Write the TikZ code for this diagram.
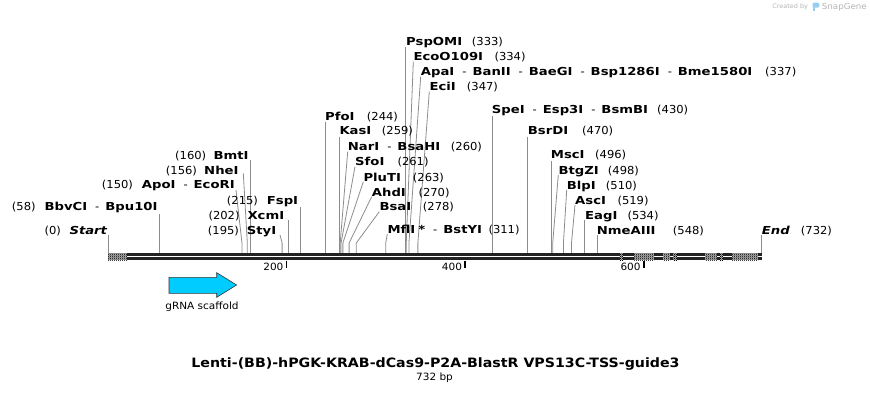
\documentclass[tikz,border=0pt]{standalone}
\usepackage{fontspec}
\setmainfont{DejaVu Sans}[FakeStretch=1.05]
\newfontfamily\enzfont{DejaVu Sans}[FakeStretch=1.2]
\newfontfamily\titlefont{DejaVu Sans}[FakeStretch=1.1]
\usetikzlibrary{patterns}
\definecolor{cutline}{RGB}{140,140,140}
\definecolor{strand}{RGB}{35,35,35}
\definecolor{feature}{RGB}{0,204,255}
\definecolor{credit}{RGB}{180,180,180}
\definecolor{snapblue}{RGB}{150,205,240}

\pgfdeclarepatternformonly{finechecker}{\pgfpointorigin}{\pgfqpoint{2pt}{2pt}}{\pgfqpoint{2pt}{2pt}}{%
  \pgfpathrectangle{\pgfpointorigin}{\pgfqpoint{1pt}{1pt}}%
  \pgfpathrectangle{\pgfqpoint{1pt}{1pt}}{\pgfqpoint{1pt}{1pt}}%
  \pgfusepath{fill}}

\newcommand{\enz}[1]{{\enzfont\bfseries #1}}
\newcommand{\dash}{\hspace{8pt}-\hspace{6pt}}

\begin{document}
\begin{tikzpicture}[x=1pt, y=-1pt,
    lbl/.style={anchor=base west, inner sep=0pt, font=\fontsize{11}{13}\selectfont},
    site/.style={cutline, line width=0.8pt},
    ticklbl/.style={anchor=base east, inner sep=0pt, font=\fontsize{10}{12}\selectfont}]

    \useasboundingbox (0,0) rectangle (870,393);

    % cut sites: slanted leaders
    \foreach \b/\tx/\ty in {150/236/190, 156/243.3/173.3, 195/280/235,
        260/347.7/151.7, 261/355/166.7, 263/363.3/181.7, 270/371.7/196.7,
        278/379.3/211.7, 311/387.3/234, 334/413.3/61.7, 337/420.7/76.7,
        347/429.3/91.7, 498/558.3/175, 510/566.7/190, 519/575/205}
        \draw[site] (\tx,\ty) -- ({108+0.893*\b},243) -- ({108+0.893*\b},253);

    % cut sites: straight leaders
    \foreach \b/\ty in {0/235, 58/214, 160/160, 202/220, 215/207, 244/122,
        259/137, 333/47.3, 430/116, 470/137, 496/161, 534/220, 548/235, 732/235}
        \draw[site] ({108+0.893*\b},\ty) -- ({108+0.893*\b},253);

    % sequence
    \fill[strand] (108,253.3) rectangle (762,256);
    \fill[strand] (108,257.2) rectangle (762,260);
    \foreach \a/\e in {108/127, 620/623.3, 634/654, 663/670, 673/677,
        705/717, 719.5/723, 732/758} {
        \fill[black!30] (\a,253.3) rectangle (\e,260);
        \fill[pattern=finechecker, pattern color=black] (\a,253.3) rectangle (\e,260);
    }

    \foreach \t in {200,400,600} {
        \draw[black, line width=1.5pt] ({108+0.893*\t},260.5) -- ++(0,7);
        \node[ticklbl] (tick\t) at ({108+0.893*\t-3},270) {\t};
    }

    % left labels
    \node[lbl] (start-n) at (44.3,234) {(0)};
    \node[lbl] (start) at (69.3,234) {{\enzfont\bfseries\itshape Start}};
    \node[lbl] (bbvci-n) at (11.7,210) {(58)};
    \node[lbl] (bbvci) at (44.3,210) {\enz{BbvCI}\dash\enz{Bpu10I}};
    \node[lbl] (apoi-n) at (101.7,188.5) {(150)};
    \node[lbl] (apoi) at (141.7,188.5) {\enz{ApoI}\dash\enz{EcoRI}};
    \node[lbl] (nhei-n) at (165.7,174) {(156)};
    \node[lbl] (nhei) at (204,174) {\enz{NheI}};
    \node[lbl] (bmti-n) at (175,159.5) {(160)};
    \node[lbl] (bmti) at (213.3,159.5) {\enz{BmtI}};
    \node[lbl] (fspi-n) at (226.7,204) {(215)};
    \node[lbl] (fspi) at (266.7,204) {\enz{FspI}};
    \node[lbl] (xcmi-n) at (208.3,219) {(202)};
    \node[lbl] (xcmi) at (247.3,219) {\enz{XcmI}};
    \node[lbl] (styi-n) at (207.7,234) {(195)};
    \node[lbl] (styi) at (246.7,234) {\enz{StyI}};

    % right labels
    \node[lbl] (pspomi) at (406,45.7) {\enz{PspOMI}};
    \node[lbl] (pspomi-n) at (471.7,45.7) {(333)};
    \node[lbl] (ecoo) at (413.3,60.7) {\enz{EcoO109I}};
    \node[lbl] (ecoo-n) at (494.3,60.7) {(334)};
    \node[lbl] (apai) at (420.7,75.7) {\enz{ApaI}\dash\enz{BanII}\dash\enz{BaeGI}\dash\enz{Bsp1286I}\dash\enz{Bme1580I}};
    \node[lbl] (apai-n) at (765,75.7) {(337)};
    \node[lbl] (ecii) at (429.3,90.5) {\enz{EciI}};
    \node[lbl] (ecii-n) at (466.7,90.5) {(347)};
    \node[lbl] (pfoi) at (325,120.3) {\enz{PfoI}};
    \node[lbl] (pfoi-n) at (366.7,120.3) {(244)};
    \node[lbl] (kasi) at (339.3,135) {\enz{KasI}};
    \node[lbl] (kasi-n) at (381.7,135) {(259)};
    \node[lbl] (nari) at (347.7,150.3) {\enz{NarI}\dash\enz{BsaHI}};
    \node[lbl] (nari-n) at (450.7,150.3) {(260)};
    \node[lbl] (sfoi) at (355,165.5) {\enz{SfoI}};
    \node[lbl] (sfoi-n) at (397.3,165.5) {(261)};
    \node[lbl] (pluti) at (363.3,181) {\enz{PluTI}};
    \node[lbl] (pluti-n) at (412.7,181) {(263)};
    \node[lbl] (ahdi) at (371.7,196) {\enz{AhdI}};
    \node[lbl] (ahdi-n) at (418.3,196) {(270)};
    \node[lbl] (bsai) at (379.3,210.5) {\enz{BsaI}};
    \node[lbl] (bsai-n) at (422.7,210.5) {(278)};
    \node[lbl] (mfli) at (387.3,233) {\enz{MflI}\hspace{3pt}\enz{*}\dash\enz{BstYI}};
    \node[lbl] (mfli-n) at (488.3,233) {(311)};
    \node[lbl] (spei) at (491.7,114) {\enz{SpeI}\dash\enz{Esp3I}\dash\enz{BsmBI}};
    \node[lbl] (spei-n) at (657,114) {(430)};
    \node[lbl] (bsrdi) at (527.7,135) {\enz{BsrDI}};
    \node[lbl] (bsrdi-n) at (582,135) {(470)};
    \node[lbl] (msci) at (550.7,159) {\enz{MscI}};
    \node[lbl] (msci-n) at (595,159) {(496)};
    \node[lbl] (btgzi) at (558.3,174) {\enz{BtgZI}};
    \node[lbl] (btgzi-n) at (607.7,174) {(498)};
    \node[lbl] (blpi) at (566.7,189) {\enz{BlpI}};
    \node[lbl] (blpi-n) at (605.7,189) {(510)};
    \node[lbl] (asci) at (575,204) {\enz{AscI}};
    \node[lbl] (asci-n) at (617.3,204) {(519)};
    \node[lbl] (eagi) at (585,219) {\enz{EagI}};
    \node[lbl] (eagi-n) at (627.3,219) {(534)};
    \node[lbl] (nmeaiii) at (596.7,234) {\enz{NmeAIII}};
    \node[lbl] (nmeaiii-n) at (672.7,234) {(548)};
    \node[lbl] (end) at (761.7,234) {{\enzfont\bfseries\itshape End}};
    \node[lbl] (end-n) at (800.7,234) {(732)};

    % feature
    \draw[black!80, fill=feature, line width=0.6pt] (169,277.3) -- (216.7,277.3) -- (216.7,272.7)
        -- (236.6,285) -- (216.7,297.3) -- (216.7,293.3) -- (169,293.3) -- cycle;
    \node[anchor=base, inner sep=0pt, font=\fontsize{10}{12}\selectfont] (grna) at (202,309.5) {gRNA scaffold};

    \node[anchor=base, inner sep=0pt, font=\fontsize{12.9}{15}\titlefont\bfseries] (title) at (435.5,367)
        {Lenti-(BB)-hPGK-KRAB-dCas9-P2A-BlastR VPS13C-TSS-guide3};
    \node[anchor=base, inner sep=0pt, font=\fontsize{10}{12}\selectfont] (size) at (434.5,380) {732 bp};

    % credit
    \node[anchor=base east, inner sep=0pt, text=credit, font=\fontsize{6.2}{8}\selectfont] (created) at (808.3,8.6) {Created by};
    \fill[snapblue] (812.5,2.7) rectangle (815,10.7);
    \fill[snapblue, rounded corners=1.2pt] (812.5,2.7) rectangle (819.3,7.6);
    \node[anchor=base west, inner sep=0pt, text=credit, font=\fontsize{8.3}{10}\selectfont] (snapgene) at (821.7,9.3) {SnapGene};

\end{tikzpicture}
\end{document}
